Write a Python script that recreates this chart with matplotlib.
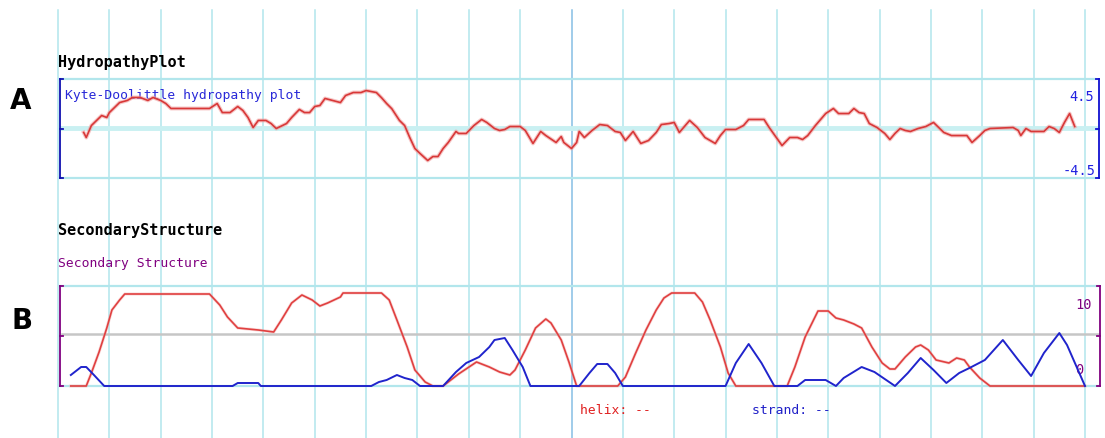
import matplotlib
matplotlib.use("Agg")
import matplotlib.pyplot as plt

# hydropathy profile (residue, Kyte-Doolittle score)
hyd_res = [10, 11, 13, 15, 17, 19, 20, 22, 24, 27, 29, 32, 35, 37, 40, 42, 44,
           59, 62, 64, 67, 70, 72, 74, 76, 78, 81, 83, 85, 89, 91, 94, 96, 98,
           100, 102, 104, 107, 110, 112, 115, 118, 120, 124, 126, 128, 130, 133,
           135, 137, 139, 141, 144, 146, 148, 150, 152, 155, 156, 159, 162, 165,
           167, 170, 172, 174, 176, 180, 182, 185, 188, 190, 194, 196, 197, 200,
           202, 203, 205, 208, 211, 214, 217, 219, 221, 224, 227, 230, 233, 235,
           238, 240, 242, 246, 249, 252, 256, 258, 260, 264, 267, 269, 275, 277,
           280, 282, 285, 288, 290, 292, 295, 299, 302, 304, 308, 310, 312, 314,
           316, 319, 322, 324, 326, 328, 330, 332, 335, 338, 341, 343, 345, 348,
           354, 356, 359, 361, 363, 372, 374, 375, 377, 379, 384, 386, 388, 390,
           392, 394, 396]
hyd_val = [-0.36, -0.82, 0.27, 0.73, 1.18, 1.0, 1.45, 1.91, 2.36, 2.55, 2.82,
           2.82, 2.55, 2.82, 2.55, 2.27, 1.82,
           1.82, 2.27, 1.45, 1.45, 2.0, 1.64, 1.0, 0.09, 0.73, 0.73, 0.45, 0.0,
           0.45, 1.0, 1.73, 1.45, 1.45,
           2.0, 2.09, 2.73, 2.55, 2.36, 3.0, 3.27, 3.27, 3.45, 3.27, 2.8, 2.27,
           1.8, 0.73,
           0.27, -0.82, -1.82, -2.27, -2.91, -2.55, -2.55, -1.82, -1.27, -0.27,
           -0.45, -0.45, 0.27, 0.82,
           0.55, 0.0, -0.18, -0.09, 0.18, 0.18, -0.18, -1.36, -0.27, -0.64,
           -1.27, -0.73, -1.27, -1.82,
           -1.27, -0.27, -0.82, -0.18, 0.36, 0.27, -0.27, -0.36, -1.09, -0.27,
           -1.36, -1.09, -0.36, 0.36,
           0.45, 0.55, -0.36, 0.73, 0.09, -0.82, -1.36, -0.64, -0.09, -0.09,
           0.27, 0.82, 0.82, 0.09,
           -0.9, -1.55, -0.82, -0.82, -1.0, -0.64, 0.27, 1.36, 1.82, 1.36, 1.36,
           1.82, 1.45, 1.36,
           0.45, 0.09, -0.45, -1.0, -0.45, 0.0, -0.18, -0.27, 0.0, 0.18, 0.55,
           0.09, -0.36, -0.64,
           -0.64, -1.27, -0.64, -0.18, 0.0, 0.09, -0.18, -0.64, 0.0, -0.27,
           -0.27, 0.18, 0.0, -0.36,
           0.55, 1.36, 0.18]

# secondary structure prediction
helix_res = [5, 11, 13, 16, 19, 21, 24, 26, 59, 63, 66, 70, 78, 84, 87, 91, 95,
             99, 102, 105, 110, 111, 126, 129, 132, 136, 139, 143, 146, 150,
             156, 163, 168, 172, 176, 178, 182, 186, 190, 192, 196, 199, 202,
             218, 221, 225, 229, 233, 236, 239, 248, 251, 254, 258, 261, 264,
             284, 287, 291, 296, 300, 303, 306, 310, 313, 317, 321, 324, 326,
             330, 334, 336, 339, 342, 347, 350, 353, 355, 359, 363, 400]
helix_val = [0, 0, 1.3, 3.4, 5.8, 7.6, 8.6, 9.2, 9.2, 8.1, 6.9, 5.8, 5.6, 5.4,
             6.6, 8.3, 9.1, 8.6, 8.0, 8.3, 8.9, 9.3, 9.3, 8.6, 6.6, 3.9, 1.6,
             0.4, 0, 0, 1.2, 2.4, 1.9, 1.4, 1.1, 1.6, 3.6, 5.8, 6.7, 6.3, 4.6,
             2.4, 0, 0, 0.9, 3.3, 5.6, 7.6, 8.8, 9.3, 9.3, 8.4, 6.6, 3.9, 1.3,
             0, 0, 1.9, 4.9, 7.5, 7.5, 6.8, 6.6, 6.2, 5.8, 3.9, 2.3, 1.7, 1.7,
             2.9, 3.9, 4.1, 3.6, 2.6, 2.3, 2.8, 2.6, 1.9, 0.8, 0, 0]

strand_res = [5, 9, 11, 14, 18, 68, 70, 78, 79, 122, 125, 128, 132, 135, 138,
              141, 150, 155, 159, 164, 168, 170, 174, 177, 181, 184, 203, 207,
              210, 214, 217, 220, 260, 264, 269, 274, 279, 288, 291, 299, 303,
              306, 313, 318, 326, 331, 336, 341, 346, 351, 355, 361, 368, 374,
              379, 384, 390, 393, 400]
strand_val = [1.1, 1.9, 1.9, 1.1, 0, 0, 0.3, 0.3, 0, 0, 0.4, 0.6, 1.1, 0.8,
              0.6, 0, 0, 1.4, 2.3, 2.9, 3.9, 4.6, 4.8, 3.6, 1.9, 0, 0, 1.3, 2.2,
              2.2, 1.3, 0, 0, 2.3, 4.2, 2.3, 0, 0, 0.6, 0.6, 0, 0.8, 1.9, 1.4, 0,
              1.3, 2.8, 1.6, 0.3, 1.3, 1.8, 2.6, 4.6, 2.6, 1.0, 3.3, 5.3, 4.1, 0]

W, H = 1105, 438
fig = plt.figure(figsize=(W / 100, H / 100), dpi=100)

# page layer in pixel units: grid, brackets, labels
bg = fig.add_axes([0, 0, 1, 1])
bg.set_xlim(0, W)
bg.set_ylim(H, 0)
bg.axis("off")

cyan = "#b2e6ec"
x0, x1 = 58, 1085
step = (x1 - x0) / 20
for k in range(21):
    col = "#86bfe4" if k == 10 else cyan
    bg.plot([x0 + k * step] * 2, [10, H], color=col, lw=1.1, zorder=1)

bg.plot([60, 1095], [79, 79], color=cyan, lw=1.6, zorder=1)
bg.plot([62, 1095], [128, 128], color="#c9f0f2", lw=3.5, zorder=1)
bg.plot([60, 1095], [178, 178], color=cyan, lw=1.6, zorder=1)
bg.plot([60, 1099], [286, 286], color=cyan, lw=1.6, zorder=1)
bg.plot([62, 1099], [334, 334], color="#c6c6c6", lw=1.8, zorder=1)
bg.plot([60, 1099], [386, 386], color=cyan, lw=1.6, zorder=1)


def bracket(x, y_top, y_bot, color, sign):
    ym = (y_top + y_bot) / 2
    bg.plot([x, x], [y_top, y_bot], color=color, lw=1.3, zorder=3)
    for y in (y_top, ym, y_bot):
        bg.plot([x, x + sign * 3], [y, y], color=color, lw=1.3, zorder=3)


bracket(60, 79, 178, "#1010b0", 1)
bracket(1099, 79, 178, "#1010d0", -1)
bracket(60, 286, 386, "#800080", 1)
bracket(1100, 286, 386, "#800080", -1)

mono = "DejaVu Sans Mono"
bg.text(58, 62, "HydropathyPlot", family=mono, weight="bold", fontsize=10.9,
        va="center", ha="left", color="black")
bg.text(65, 96, "Kyte-Doolittle hydropathy plot", family=mono, fontsize=9.4,
        va="center", ha="left", color="#2828d8", zorder=4)
bg.text(58, 230, "SecondaryStructure", family=mono, weight="bold", fontsize=10.9,
        va="center", ha="left", color="black")
bg.text(58, 263, "Secondary Structure", family=mono, fontsize=9.4,
        va="center", ha="left", color="#800080")
bg.text(580, 411, "helix: --", family=mono, fontsize=9.4, va="center",
        ha="left", color="#e02020")
bg.text(752, 411, "strand: --", family=mono, fontsize=9.4, va="center",
        ha="left", color="#2020c8")
bg.text(1094, 97, "4.5", family=mono, fontsize=9.8, va="center", ha="right",
        color="#2020e0")
bg.text(1096, 171, "-4.5", family=mono, fontsize=9.8, va="center", ha="right",
        color="#2020e0")
bg.text(1092, 305, "10", family=mono, fontsize=9.8, va="center", ha="right",
        color="#800080")
bg.text(1083, 370, "0", family=mono, fontsize=9.8, va="center", ha="right",
        color="#800080")

bg.text(10, 101, "A", fontsize=20, weight="bold", va="center", ha="left")
bg.text(11, 321, "B", fontsize=20, weight="bold", va="center", ha="left")


def panel(top, bottom):
    ax = fig.add_axes([x0 / W, (H - bottom) / H, (x1 - x0) / W, (bottom - top) / H])
    ax.set_xlim(0, 400)
    ax.patch.set_alpha(0)
    ax.axis("off")
    return ax


# hydropathy panel
ax_h = panel(79, 178)
ax_h.set_ylim(-4.5, 4.5)
ax_h.plot(hyd_res, hyd_val, color="#f0a0a0", lw=2.8, alpha=0.6,
          solid_joinstyle="round")
ax_h.plot(hyd_res, hyd_val, color="#d83838", lw=1.2, solid_joinstyle="round")

# secondary structure panel
ax_s = panel(286, 386)
ax_s.set_ylim(0, 10)
ax_s.plot(helix_res, helix_val, color="#f2a8a8", lw=2.2, alpha=0.45,
          clip_on=False)
ax_s.plot(helix_res, helix_val, color="#e04040", lw=1.2, clip_on=False)
ax_s.plot(strand_res, strand_val, color="#2024cc", lw=1.4, clip_on=False)

fig.savefig("out.png", dpi=100)
